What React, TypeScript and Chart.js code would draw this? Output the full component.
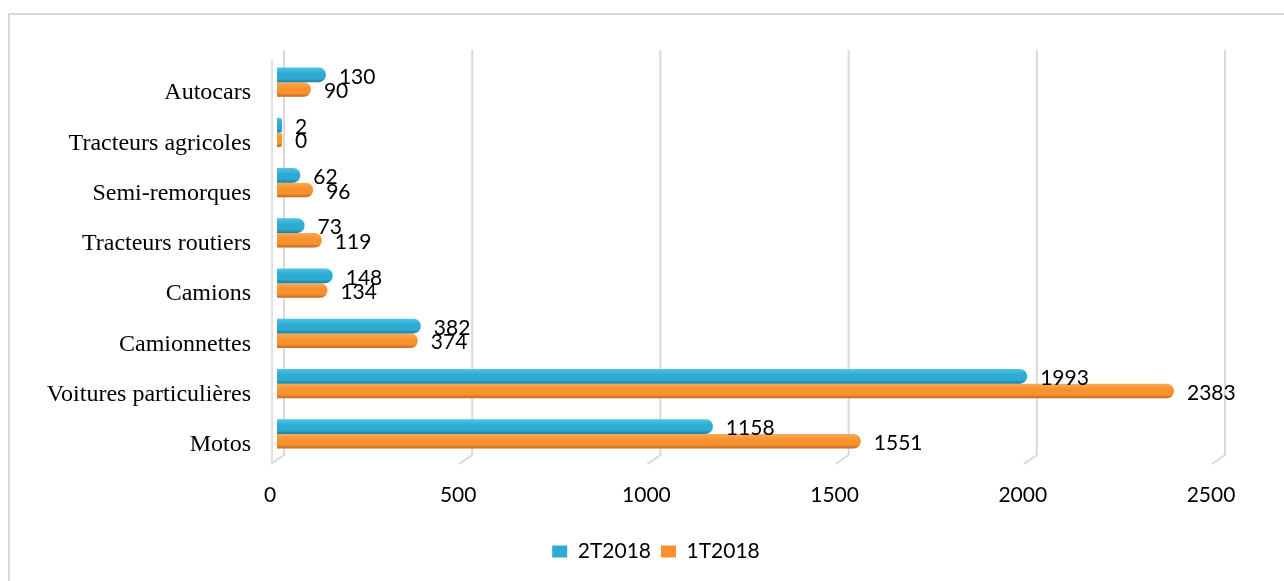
import React, { useEffect, useRef } from "react";
import { Chart, registerables } from "chart.js";

Chart.register(...registerables);

const categories = [
  "Autocars",
  "Tracteurs agricoles",
  "Semi-remorques",
  "Tracteurs routiers",
  "Camions",
  "Camionnettes",
  "Voitures particulières",
  "Motos",
];
const seriesNames = ["2T2018", "1T2018"];
const values2T2018 = [130, 2, 62, 73, 148, 382, 1993, 1158];
const values1T2018 = [90, 0, 96, 119, 134, 374, 2383, 1551];
const xTickValues = [0, 500, 1000, 1500, 2000, 2500];

const CAT_PCT = 0.58;

const BLUE = { light: "#4fc4e4", mid: "#2eabd2", dark: "#1f7f9d" };
const ORANGE = { light: "#fbab58", mid: "#f7922f", dark: "#c4681d" };
const PALETTES = [BLUE, ORANGE];

function barFill(pal: { light: string; mid: string; dark: string }, dsIndex: number) {
  return (ctx: any) => {
    if (ctx.type !== "data") return pal.mid;
    const chart = ctx.chart;
    const ys = chart.scales && chart.scales.y;
    if (!ys || !chart.chartArea) return pal.mid;
    const center = ys.getPixelForValue(ctx.dataIndex);
    const thick = (chart.chartArea.height / categories.length) * CAT_PCT / 2;
    const top = center - thick + dsIndex * thick;
    const bottom = top + thick;
    if (!isFinite(top)) return pal.mid;
    const g = chart.ctx.createLinearGradient(0, top, 0, bottom);
    g.addColorStop(0, pal.light);
    g.addColorStop(0.4, pal.mid);
    g.addColorStop(0.75, pal.mid);
    g.addColorStop(1, pal.dark);
    return g;
  };
}

const wallGrid = {
  id: "wallGrid",
  beforeDatasetsDraw(chart: any) {
    const xs = chart.scales.x;
    const c = chart.ctx;
    const { top, bottom } = chart.chartArea;
    c.save();
    c.strokeStyle = "#d9d9d9";
    c.lineWidth = 2;
    xTickValues.forEach((v) => {
      const px = xs.getPixelForValue(v);
      c.beginPath();
      c.moveTo(px + 7, top - 7);
      c.lineTo(px + 7, bottom - 4);
      c.lineTo(px - 6, bottom + 5);
      c.stroke();
    });
    const p0 = xs.getPixelForValue(0);
    c.strokeStyle = "#e0e0e0";
    c.beginPath();
    c.moveTo(p0 - 5, top + 3);
    c.lineTo(p0 - 5, bottom + 5);
    c.stroke();
    c.restore();
  },
};

const valueLabels = {
  id: "valueLabels",
  afterDatasetsDraw(chart: any) {
    const c = chart.ctx;
    c.save();
    c.font = "21px Lato";
    c.fillStyle = "#000";
    c.textAlign = "left";
    c.textBaseline = "middle";
    chart.data.datasets.forEach((ds: any, di: number) => {
      const meta = chart.getDatasetMeta(di);
      meta.data.forEach((el: any, i: number) => {
        c.fillText(String(ds.data[i]), el.x + 13, el.y + 2);
      });
    });
    c.restore();
  },
};

export default function App() {
  const canvasRef = useRef<HTMLCanvasElement | null>(null);

  useEffect(() => {
    const canvas = canvasRef.current;
    if (!canvas) return;
    const chart = new Chart(canvas, {
      type: "bar",
      data: {
        labels: categories,
        datasets: [
          {
            label: seriesNames[0],
            data: values2T2018,
            backgroundColor: barFill(BLUE, 0) as any,
            borderWidth: 0,
            borderRadius: { topLeft: 0, bottomLeft: 0, topRight: 7, bottomRight: 7 },
            borderSkipped: false,
            minBarLength: 5,
          },
          {
            label: seriesNames[1],
            data: values1T2018,
            backgroundColor: barFill(ORANGE, 1) as any,
            borderWidth: 0,
            borderRadius: { topLeft: 0, bottomLeft: 0, topRight: 7, bottomRight: 7 },
            borderSkipped: false,
            minBarLength: 5,
          },
        ],
      },
      options: {
        indexAxis: "y",
        animation: false,
        responsive: false,
        maintainAspectRatio: false,
        layout: { padding: { left: 28, top: 57, right: 0, bottom: 9 } },
        datasets: { bar: { barPercentage: 1, categoryPercentage: CAT_PCT } },
        scales: {
          x: {
            type: "linear",
            min: 0,
            max: 2500,
            ticks: {
              stepSize: 500,
              font: { family: "Lato", size: 21 },
              color: "#000",
              padding: 24,
              labelOffset: -7,
              maxRotation: 0,
              autoSkip: false,
              callback: (v: any) => String(v),
            },
            grid: { display: false, drawTicks: false },
            border: { display: false },
            afterFit: (s: any) => {
              s.height = 72;
            },
          },
          y: {
            type: "category",
            position: "left",
            ticks: {
              font: { family: "'Liberation Serif'", size: 24 },
              color: "#000",
              padding: 26,
              labelOffset: 11,
              autoSkip: false,
            },
            grid: { display: false, drawTicks: false },
            border: { display: false },
            afterFit: (s: any) => {
              s.width = 249;
            },
          },
          yr: {
            type: "linear",
            position: "right",
            display: true,
            grid: { display: false, drawTicks: false },
            border: { display: false },
            ticks: { display: false },
            afterFit: (s: any) => {
              s.width = 66;
            },
          },
        },
        plugins: {
          legend: {
            position: "bottom",
            labels: {
              boxWidth: 15,
              boxHeight: 12,
              padding: 10,
              color: "#000",
              font: { family: "Lato", size: 21 },
              generateLabels: (chart: any) =>
                chart.data.datasets.map((ds: any, i: number) => ({
                  text: ds.label,
                  fillStyle: PALETTES[i].mid,
                  strokeStyle: PALETTES[i].dark,
                  lineWidth: 0,
                  fontColor: "#000",
                  hidden: false,
                  datasetIndex: i,
                })),
            },
          },
          tooltip: { enabled: false },
        },
      } as any,
      plugins: [wallGrid, valueLabels],
    });
    return () => chart.destroy();
  }, []);

  return (
    <div
      style={{
        position: "fixed",
        left: 0,
        top: 0,
        width: 1284,
        height: 581,
        background: "#fff",
        overflow: "hidden",
      }}
    >
      <div
        style={{
          position: "absolute",
          left: 8,
          top: 13,
          right: 0,
          bottom: 0,
          borderLeft: "2px solid #d9d9d9",
          borderTop: "2px solid #d9d9d9",
        }}
      />
      <canvas
        ref={canvasRef}
        width={1284}
        height={581}
        style={{ position: "absolute", left: 0, top: 0, width: 1284, height: 581 }}
      />
    </div>
  );
}
